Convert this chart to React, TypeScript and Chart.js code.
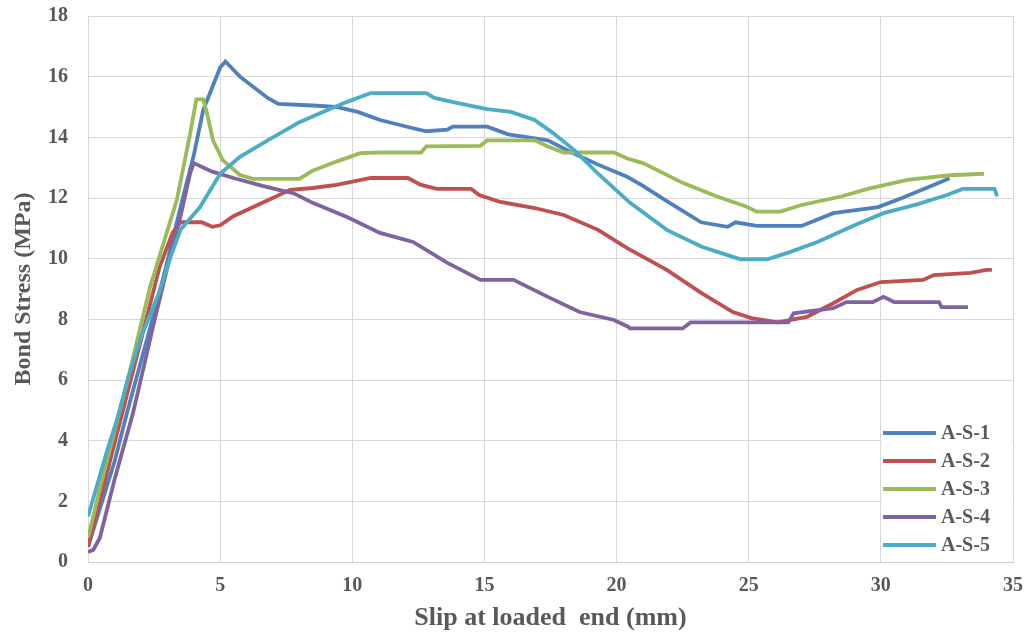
import React, { useEffect, useRef } from 'react';
import { Chart, registerables } from 'chart.js';

Chart.register(...registerables);

const seriesNames = ['A-S-1', 'A-S-2', 'A-S-3', 'A-S-4', 'A-S-5'];
const seriesColors = ['#4F81BD', '#C0504D', '#9BBB59', '#8064A2', '#4BACC6'];

const xTickValues = [0, 5, 10, 15, 20, 25, 30, 35];
const yTickValues = [0, 2, 4, 6, 8, 10, 12, 14, 16, 18];

const xTitle = 'Slip at loaded  end (mm)';
const yTitle = 'Bond Stress (MPa)';

// [slip (mm), bond stress (MPa)]
const AS1: [number, number][] = [
  [0, 0.5], [0.5, 1.9], [1.0, 3.3], [1.5, 5.0], [2.0, 6.6], [2.5, 8.2], [3.0, 9.9], [3.5, 11.7], [4.0, 13.4],
  [4.36, 14.9], [5.0, 16.3], [5.2, 16.5], [5.75, 16.0], [6.8, 15.3], [7.2, 15.1], [8.5, 15.05], [9.4, 15.0],
  [10.2, 14.84], [11.05, 14.57], [12.3, 14.3], [12.8, 14.2], [13.6, 14.25], [13.8, 14.35], [15.1, 14.35],
  [15.9, 14.1], [17.4, 13.9], [18.3, 13.5], [19.3, 13.1], [20.4, 12.7], [21.0, 12.4], [21.9, 11.9], [23.2, 11.2],
  [24.2, 11.05], [24.5, 11.2], [25.3, 11.08], [27.0, 11.08], [28.2, 11.5], [29.9, 11.7], [30.8, 12.0],
  [32.2, 12.5], [32.6, 12.65],
];

const AS2: [number, number][] = [
  [0, 0.5], [0.5, 2.2], [1.0, 3.9], [1.5, 5.6], [2.0, 7.3], [2.7, 9.7], [3.2, 10.85], [3.5, 11.2], [4.3, 11.2],
  [4.7, 11.05], [5.0, 11.1], [5.5, 11.4], [6.5, 11.8], [7.65, 12.27], [8.5, 12.33], [9.4, 12.43], [10.7, 12.66],
  [12.1, 12.66], [12.6, 12.43], [13.2, 12.3], [14.5, 12.3], [14.8, 12.1], [15.6, 11.87], [16.9, 11.67],
  [18.0, 11.44], [19.3, 10.95], [20.4, 10.35], [21.9, 9.63], [23.2, 8.87], [24.4, 8.24], [25.1, 8.04],
  [26.1, 7.9], [27.2, 8.08], [28.2, 8.53], [29.1, 8.97], [30.0, 9.23], [31.6, 9.3], [32.0, 9.46], [33.4, 9.53],
  [34.0, 9.63], [34.2, 9.63],
];

const AS3: [number, number][] = [
  [0, 0.8], [0.5, 2.6], [1.0, 4.3], [1.5, 6.0], [2.35, 9.07], [3.36, 11.93], [3.86, 14.1], [4.1, 15.25],
  [4.36, 15.25], [4.5, 14.8], [4.73, 13.9], [5.1, 13.25], [5.75, 12.76], [6.25, 12.63], [8.0, 12.63],
  [8.5, 12.9], [9.4, 13.2], [10.3, 13.48], [11.05, 13.5], [12.6, 13.5], [12.8, 13.7], [14.85, 13.72],
  [15.1, 13.9], [16.9, 13.9], [17.4, 13.7], [18.0, 13.5], [19.9, 13.5], [20.4, 13.3], [21.0, 13.15],
  [22.5, 12.5], [23.8, 12.05], [24.9, 11.72], [25.3, 11.55], [26.2, 11.55], [27.0, 11.77], [28.5, 12.05],
  [29.5, 12.3], [31.0, 12.6], [32.6, 12.75], [33.9, 12.8],
];

const AS4: [number, number][] = [
  [0, 0.33], [0.2, 0.4], [0.45, 0.8], [1.0, 2.7], [1.7, 4.9], [2.5, 7.9], [3.0, 9.7], [3.5, 11.4],
  [3.86, 12.8], [4.0, 13.15], [4.7, 12.87], [5.5, 12.66], [6.6, 12.4], [7.3, 12.25], [7.8, 12.15],
  [8.5, 11.84], [9.8, 11.37], [11.05, 10.85], [12.3, 10.55], [13.6, 9.86], [14.85, 9.3], [16.1, 9.3],
  [17.4, 8.74], [18.6, 8.24], [19.9, 7.98], [20.45, 7.75], [20.5, 7.7], [22.5, 7.7], [22.8, 7.9],
  [26.5, 7.9], [26.7, 8.2], [28.2, 8.37], [28.7, 8.57], [29.7, 8.57], [30.1, 8.74], [30.5, 8.57],
  [32.2, 8.57], [32.3, 8.4], [33.3, 8.4],
];

const AS5: [number, number][] = [
  [0, 1.5], [0.3, 2.4], [0.7, 3.6], [1.1, 4.7], [1.5, 6.0], [2.0, 7.4], [2.7, 8.9], [3.1, 10.0], [3.5, 10.95],
  [4.24, 11.7], [5.0, 12.8], [5.75, 13.36], [6.8, 13.9], [8.0, 14.5], [8.8, 14.8], [9.8, 15.17], [10.7, 15.46],
  [12.8, 15.46], [13.1, 15.3], [14.0, 15.13], [15.1, 14.93], [16.0, 14.84], [16.9, 14.57], [17.6, 14.14],
  [18.4, 13.58], [19.3, 12.8], [20.5, 11.85], [21.9, 10.95], [23.2, 10.4], [24.4, 10.06], [24.7, 9.98],
  [25.7, 9.98], [26.5, 10.2], [27.6, 10.55], [29.0, 11.1], [30.1, 11.5], [31.4, 11.8], [32.5, 12.1],
  [33.1, 12.3], [34.3, 12.3], [34.4, 12.05],
];

const seriesData = [AS1, AS2, AS3, AS4, AS5];

const FONT = "'Liberation Serif', 'Times New Roman', serif";
const TEXT_COLOR = '#595959';
const GRID_COLOR = '#d9d9d9';

const legendPlugin = {
  id: 'insideLegend',
  afterDatasetsDraw(chart: any) {
    const { ctx, chartArea } = chart;
    const boxLeft = chartArea.right - 132;
    const boxTop = chartArea.bottom - 146;
    ctx.save();
    ctx.fillStyle = '#ffffff';
    ctx.fillRect(boxLeft + 1, boxTop, 130, 142);
    ctx.font = `bold 20px ${FONT}`;
    ctx.textBaseline = 'middle';
    ctx.textAlign = 'left';
    seriesNames.forEach((name, i) => {
      const y = boxTop + 17 + i * 28;
      ctx.strokeStyle = seriesColors[i];
      ctx.lineWidth = 4;
      ctx.beginPath();
      ctx.moveTo(boxLeft + 2, y);
      ctx.lineTo(boxLeft + 55, y);
      ctx.stroke();
      ctx.fillStyle = TEXT_COLOR;
      ctx.fillText(name, boxLeft + 60, y + 1);
    });
    ctx.restore();
  },
};

export default function App() {
  const canvasRef = useRef<HTMLCanvasElement | null>(null);

  useEffect(() => {
    if (!canvasRef.current) return;
    const chart = new Chart(canvasRef.current, {
      type: 'line',
      data: {
        datasets: seriesNames.map((name, i) => ({
          label: name,
          data: seriesData[i].map(([x, y]) => ({ x, y })),
          borderColor: seriesColors[i],
          backgroundColor: seriesColors[i],
          borderWidth: 3.8,
          pointRadius: 0,
          tension: 0,
          fill: false,
          order: seriesNames.length - i,
        })),
      },
      options: {
        animation: false,
        responsive: false,
        maintainAspectRatio: false,
        devicePixelRatio: 1,
        layout: { padding: { top: 16, right: 18, left: 0, bottom: 0 } },
        plugins: {
          legend: { display: false },
          tooltip: { enabled: false },
        },
        scales: {
          x: {
            type: 'linear',
            min: 0,
            max: 35,
            afterBuildTicks: (axis: any) => {
              axis.ticks = xTickValues.map((v) => ({ value: v }));
            },
            afterFit: (axis: any) => {
              axis.height = 72;
              axis.paddingLeft = 0;
              axis.paddingRight = 0;
            },
            grid: { color: GRID_COLOR, drawTicks: false, lineWidth: 1 },
            border: { color: '#cfcfcf', width: 1 },
            ticks: {
              padding: 12,
              color: TEXT_COLOR,
              font: { family: FONT, size: 20, weight: 'bold' },
              maxRotation: 0,
            },
            title: {
              display: true,
              text: xTitle,
              color: TEXT_COLOR,
              font: { family: FONT, size: 26, weight: 'bold' },
              padding: { top: 0, bottom: 0 },
            },
          },
          y: {
            type: 'linear',
            min: 0,
            max: 18,
            afterBuildTicks: (axis: any) => {
              axis.ticks = yTickValues.map((v) => ({ value: v }));
            },
            afterFit: (axis: any) => {
              axis.width = 88;
              axis.paddingTop = 0;
              axis.paddingBottom = 0;
            },
            grid: { color: GRID_COLOR, drawTicks: false, lineWidth: 1 },
            border: { color: GRID_COLOR, width: 1 },
            ticks: {
              padding: 20,
              color: TEXT_COLOR,
              font: { family: FONT, size: 20, weight: 'bold' },
            },
            title: {
              display: true,
              text: yTitle,
              color: TEXT_COLOR,
              font: { family: FONT, size: 24, weight: 'bold' },
              padding: { top: 9, bottom: 0 },
            },
          },
        },
      },
      plugins: [legendPlugin],
    });
    return () => chart.destroy();
  }, []);

  return (
    <div
      style={{
        position: 'fixed',
        left: 0,
        top: 0,
        width: 1031,
        height: 634,
        background: '#ffffff',
      }}
    >
      <canvas ref={canvasRef} width={1031} height={634} style={{ display: 'block' }} />
    </div>
  );
}
